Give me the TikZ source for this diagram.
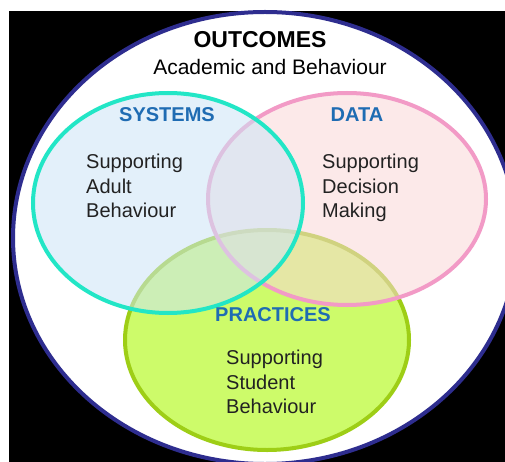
\documentclass[tikz,border=0pt]{standalone}
\usepackage{fontspec}
\setmainfont{Liberation Sans}
\usetikzlibrary{calc}
\definecolor{outline}{HTML}{2E2D8F}
\definecolor{sysedge}{HTML}{22E6C6}
\definecolor{sysfill}{HTML}{CCE4F6}
\definecolor{dataedge}{HTML}{F29AC6}
\definecolor{datafill}{HTML}{FAD7D7}
\definecolor{pracedge}{HTML}{9ECE16}
\definecolor{pracfill}{HTML}{CDFB6A}
\definecolor{headblue}{HTML}{1F6CB3}
\definecolor{bodygray}{HTML}{222222}
\tikzset{head/.style={font=\bfseries\fontsize{20}{22}\selectfont,text=headblue,inner sep=0pt},
  body/.style={font=\fontsize{20}{24.5}\selectfont,text=bodygray,align=left,anchor=north west,inner sep=0pt}}

\begin{document}
\begin{tikzpicture}[x=1pt,y=-1pt]
\useasboundingbox (0,0) rectangle (505,462);
\clip (0,0) rectangle (505,462);
\fill[black] (9,11) rectangle (505,462);
\coordinate (O) at (265,238);
\draw[outline,line width=4pt,fill=white] (O) ellipse [x radius=252,y radius=226];
% back to front: practices, data, systems
\foreach \name/\x/\y/\rx/\ry/\fc/\dc/\op in {prac/267/340/142/110/pracfill/pracedge/1,data/347/199/139/106/datafill/dataedge/.55,sys/168/203/135/110/sysfill/sysedge/.55} {
  \coordinate (\name) at (\x,\y);
  \draw[line width=4pt,draw=\dc,fill=\fc,fill opacity=\op] (\name) ellipse [x radius=\rx,y radius=\ry];
}
\node[font=\bfseries\fontsize{23}{26}\selectfont,text=black,inner sep=0pt] (outcomes) at (260,40) {OUTCOMES};
\node[font=\fontsize{21}{24}\selectfont,text=black,inner sep=0pt] (acad) at (270,67) {Academic and Behaviour};
\node[head] (systems) at (167,115) {SYSTEMS};
\node[head] (data) at (357,115) {DATA};
\node[head] (practices) at (273,315) {PRACTICES};
\node[body] (sysText) at (86,154) {Supporting\\Adult\\Behaviour};
\node[body] (dataText) at (322,154) {Supporting\\Decision\\Making};
\node[body] (pracText) at (226,350) {Supporting\\Student\\Behaviour};
\end{tikzpicture}
\end{document}
